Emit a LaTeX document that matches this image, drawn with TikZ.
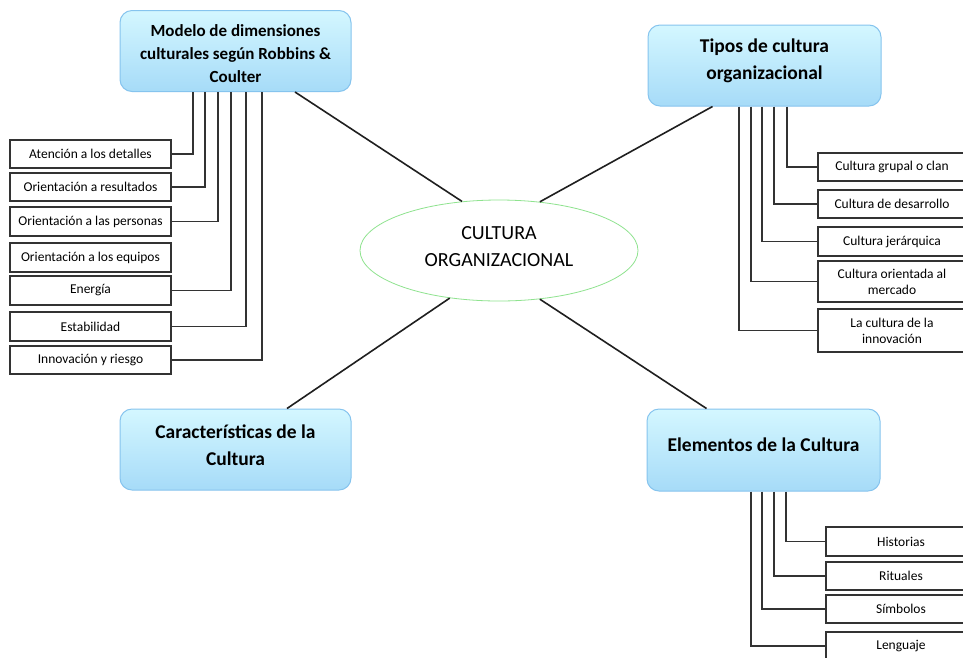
\documentclass[tikz,border=0pt]{standalone}
\usepackage{fontspec}
\setmainfont{Carlito}
\usetikzlibrary{calc,shapes.geometric}
\definecolor{boxtop}{HTML}{D4F7FF}
\definecolor{boxbot}{HTML}{A6DBF8}
\definecolor{boxborder}{HTML}{86C4EE}
\definecolor{ellgreen}{HTML}{8FE38F}
\definecolor{linegray}{HTML}{333333}
\tikzset{
 mainbox/.style={draw=boxborder, line width=1pt, rounded corners=12pt, top color=boxtop, bottom color=boxbot, minimum width=231pt, minimum height=81pt, inner sep=0pt},
 maintext/.style={font=\fontsize{19.5}{27}\selectfont\bfseries, align=center, text=black},
 subbox/.style={draw=linegray, line width=1.1pt, fill=white, minimum height=28pt, inner sep=0pt, font=\fontsize{13.5}{16}\selectfont, align=center},
 leftsub/.style={subbox, minimum width=161pt},
 rightsub/.style={subbox, minimum width=148pt},
 elemsub/.style={subbox, minimum width=150pt},
 link/.style={line width=1.6pt, draw=black!88},
 sublink/.style={line width=1.2pt, draw=black!80},
 ctext/.style={font=\fontsize{20}{27}\selectfont, align=center, text=black},
}
\begin{document}
\begin{tikzpicture}[x=1pt,y=-1pt]
\useasboundingbox[fill=white] (0,0) rectangle (963,657);

% central ellipse
\node[ellipse, draw=ellgreen, line width=0.8pt, minimum width=278pt, minimum height=101pt, inner sep=0pt,
  label={[ctext,yshift=3.5pt]center:{CULTURA\\ORGANIZACIONAL}}] (ell) at (499,250.5) {};

% main boxes
\node[mainbox, label={[maintext,font=\fontsize{17}{23}\selectfont\bfseries,yshift=-3pt]center:{Modelo de dimensiones\\culturales según Robbins \&\\Coulter}}] (tl) at (235.5,51) {};
\node[mainbox, minimum width=233pt, label={[maintext,yshift=5pt]center:{Tipos de cultura\\organizacional}}] (tr) at (764.5,65.5) {};
\node[mainbox, label={[maintext,yshift=4.5pt]center:{Características de la\\Cultura}}] (bl) at (235.5,449.5) {};
\node[mainbox, minimum width=233pt, minimum height=82pt, label={[maintext,yshift=5pt]center:{Elementos de la Cultura}}] (br) at (763.5,450) {};

% links to centre
\draw[link] ([xshift=59.5pt]tl.south) -- (ell.127);
\draw[link] ([xshift=-52pt]tr.south) -- (ell.50);
\draw[link] ([xshift=51.5pt]bl.north) -- (ell.224);
\draw[link] ([xshift=-57pt]br.north) -- (ell.310);

% left sub boxes
\node[leftsub] (a1) at (90.5,154) {Atención a los detalles};
\node[leftsub] (a2) at (90.5,187) {Orientación a resultados};
\node[leftsub, minimum height=29pt] (a3) at (90.5,221.5) {Orientación a las personas};
\node[leftsub, minimum height=29pt] (a4) at (90.5,257.5) {Orientación a los equipos};
\node[leftsub, minimum height=29pt] (a5) at (90.5,290.5) {Energía};
\node[leftsub, minimum height=29pt] (a6) at (90.5,326.5) {Estabilidad};
\node[leftsub] (a7) at (90.5,360) {Innovación y riesgo};

\draw[sublink] ([xshift=-42.5pt]tl.south) |- (a1.east);
\draw[sublink] ([xshift=-30.5pt]tl.south) |- (a2.east);
\draw[sublink] ([xshift=-17.5pt]tl.south) |- (a3.east);
\draw[sublink] ([xshift=-4.5pt]tl.south) |- (a5.east);
\draw[sublink] ([xshift=10.5pt]tl.south) |- (a6.east);
\draw[sublink] ([xshift=26.5pt]tl.south) |- (a7.east);

% right sub boxes
\node[rightsub] (b1) at (892,167) {Cultura grupal o clan};
\node[rightsub] (b2) at (892,204) {Cultura de desarrollo};
\node[rightsub, minimum height=29pt] (b3) at (892,241.5) {Cultura jerárquica};
\node[rightsub, minimum height=41pt] (b4) at (892,281.5) {Cultura orientada al\\mercado};
\node[rightsub, minimum height=43pt] (b5) at (892,330.5) {La cultura de la\\innovación};

\draw[sublink] ([xshift=22.5pt]tr.south) |- (b1.west);
\draw[sublink] ([xshift=9.5pt]tr.south) |- (b2.west);
\draw[sublink] ([xshift=-2.5pt]tr.south) |- (b3.west);
\draw[sublink] ([xshift=-13.5pt]tr.south) |- (b4.west);
\draw[sublink] ([xshift=-25.5pt]tr.south) |- (b5.west);

% element sub boxes
\node[elemsub, minimum height=29pt] (c1) at (901,541.5) {Historias};
\node[elemsub] (c2) at (901,576) {Rituales};
\node[elemsub] (c3) at (901,609) {Símbolos};
\node[elemsub] (c4) at (901,646) {Lenguaje};

\draw[sublink] ([xshift=22.5pt]br.south) |- (c1.west);
\draw[sublink] ([xshift=10.5pt]br.south) |- (c2.west);
\draw[sublink] ([xshift=-1.5pt]br.south) |- (c3.west);
\draw[sublink] ([xshift=-12.5pt]br.south) |- (c4.west);
\end{tikzpicture}
\end{document}
